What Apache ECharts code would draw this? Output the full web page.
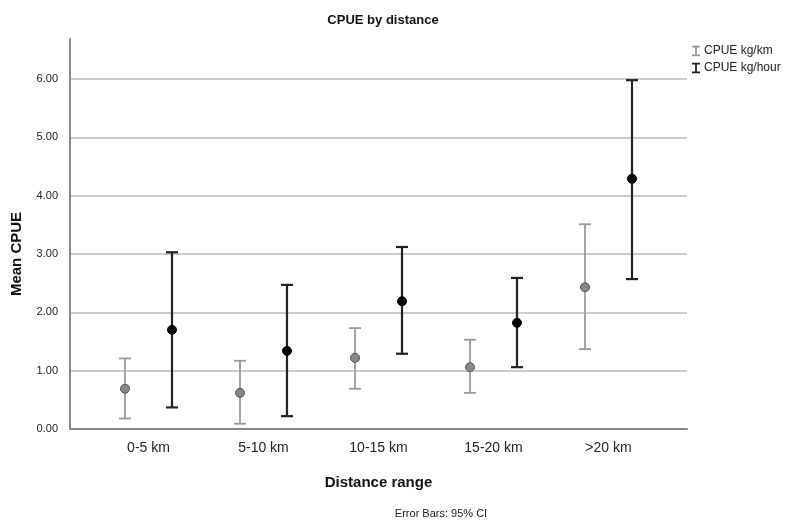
<!DOCTYPE html>
<html>
<head>
<meta charset="utf-8">
<script src="https://cdn.jsdelivr.net/npm/echarts@6/dist/echarts.min.js"></script>
<style>html,body{margin:0;padding:0;background:#fff}#c{width:797px;height:526px}</style>
</head>
<body>
<div id="c"></div>
<script>
var categories = ['0-5 km', '5-10 km', '10-15 km', '15-20 km', '>20 km'];
var kmMean  = [0.69, 0.62, 1.22, 1.06, 2.43];
var kmLow   = [0.18, 0.09, 0.69, 0.62, 1.37];
var kmHigh  = [1.21, 1.17, 1.73, 1.53, 3.51];
var hrMean  = [1.70, 1.34, 2.19, 1.82, 4.29];
var hrLow   = [0.37, 0.22, 1.29, 1.06, 2.57];
var hrHigh  = [3.03, 2.47, 3.12, 2.59, 5.98];
var yTicks = [0, 1, 2, 3, 4, 5, 6];

var FONT = '"Liberation Sans", Arial, sans-serif';
var chart = echarts.init(document.getElementById('c'));

function makeData(mean, low, high) {
  return categories.map(function (c, i) { return [i, mean[i], low[i], high[i]]; });
}

function errRender(offset, lineColor, fill, stroke, lw) {
  return function (params, api) {
    var i = api.value(0);
    var m = api.coord([i, api.value(1)]);
    var lo = api.coord([i, api.value(2)]);
    var hi = api.coord([i, api.value(3)]);
    var x = m[0] + offset;
    var hw = 6;
    var st = { stroke: lineColor, lineWidth: lw };
    return {
      type: 'group',
      children: [
        { type: 'line', shape: { x1: x, y1: hi[1], x2: x, y2: lo[1] }, style: st },
        { type: 'line', shape: { x1: x - hw, y1: hi[1], x2: x + hw, y2: hi[1] }, style: st },
        { type: 'line', shape: { x1: x - hw, y1: lo[1], x2: x + hw, y2: lo[1] }, style: st },
        { type: 'circle', shape: { cx: x, cy: m[1], r: 4.5 }, style: { fill: fill, stroke: stroke, lineWidth: 1 } }
      ]
    };
  };
}

var IBEAM = 'path://M0,0H9V2H5.5V10H9V12H0V10H3.5V2H0Z';

var option = {
  backgroundColor: '#fff',
  animation: false,
  title: {
    text: 'CPUE by distance',
    left: 378, top: 9, textAlign: 'center',
    textStyle: { fontFamily: FONT, fontSize: 13, fontWeight: 'bold', color: '#111' }
  },
  legend: {
    orient: 'vertical', left: 687, top: 40, itemGap: 5,
    itemWidth: 8, itemHeight: 11,
    textStyle: { fontFamily: FONT, fontSize: 12, color: '#222', padding: [0, 0, 0, -1] },
    data: [
      { name: 'CPUE kg/km', icon: IBEAM, itemStyle: { color: '#999' } },
      { name: 'CPUE kg/hour', icon: IBEAM, itemStyle: { color: '#222' } }
    ]
  },
  graphic: [
    { type: 'text', x: 441, y: 508, style: { text: 'Error Bars: 95% CI', fontFamily: FONT, fontSize: 11, fill: '#222', align: 'center' } }
  ],
  grid: [
    { left: 70, right: 110, top: 79, bottom: 97 },
    { left: 70, width: 1, top: 39, bottom: 97 },
    { left: 91, right: 131, top: 79, bottom: 97 }
  ],
  xAxis: [
    { gridIndex: 0, type: 'value', min: 0, max: 1, axisLine: { show: true, onZero: false, lineStyle: { color: '#888', width: 2 } }, axisTick: { show: false }, axisLabel: { show: false }, splitLine: { show: false } },
    { gridIndex: 1, type: 'value', min: 0, max: 1, show: false },
    {
      gridIndex: 2, type: 'category', data: categories, boundaryGap: true,
      axisLine: { show: false }, axisTick: { show: false },
      axisLabel: { fontFamily: FONT, fontSize: 14, color: '#222', margin: 12 },
      name: 'Distance range', nameLocation: 'middle', nameGap: 46,
      nameTextStyle: { fontFamily: FONT, fontSize: 15, fontWeight: 'bold', color: '#111' }
    }
  ],
  yAxis: [
    {
      gridIndex: 0, type: 'value', min: yTicks[0], max: yTicks[yTicks.length - 1], interval: 1,
      axisLine: { show: false }, axisTick: { show: false },
      axisLabel: { fontFamily: FONT, fontSize: 11, color: '#222', margin: 12, formatter: function (v) { return v.toFixed(2); } },
      splitLine: { show: true, lineStyle: { color: '#bbb', width: 1.5 } },
      name: 'Mean CPUE', nameLocation: 'middle', nameGap: 46, nameRotate: 90,
      nameTextStyle: { fontFamily: FONT, fontSize: 15, fontWeight: 'bold', color: '#111' }
    },
    { gridIndex: 1, type: 'value', min: 0, max: 1, axisLine: { show: true, lineStyle: { color: '#888', width: 2 } }, axisTick: { show: false }, axisLabel: { show: false }, splitLine: { show: false } },
    { gridIndex: 2, type: 'value', min: yTicks[0], max: yTicks[yTicks.length - 1], show: false }
  ],
  series: [
    {
      name: 'CPUE kg/km', type: 'custom', xAxisIndex: 2, yAxisIndex: 2, clip: false,
      itemStyle: { color: '#999' },
      renderItem: errRender(-23.5, '#999', '#888', '#555', 1.8),
      encode: { x: 0, y: [1, 2, 3] },
      data: makeData(kmMean, kmLow, kmHigh)
    },
    {
      name: 'CPUE kg/hour', type: 'custom', xAxisIndex: 2, yAxisIndex: 2, clip: false,
      itemStyle: { color: '#222' },
      renderItem: errRender(23.5, '#222', '#000', '#000', 2.2),
      encode: { x: 0, y: [1, 2, 3] },
      data: makeData(hrMean, hrLow, hrHigh)
    }
  ]
};
chart.setOption(option);
</script>
</body>
</html>
